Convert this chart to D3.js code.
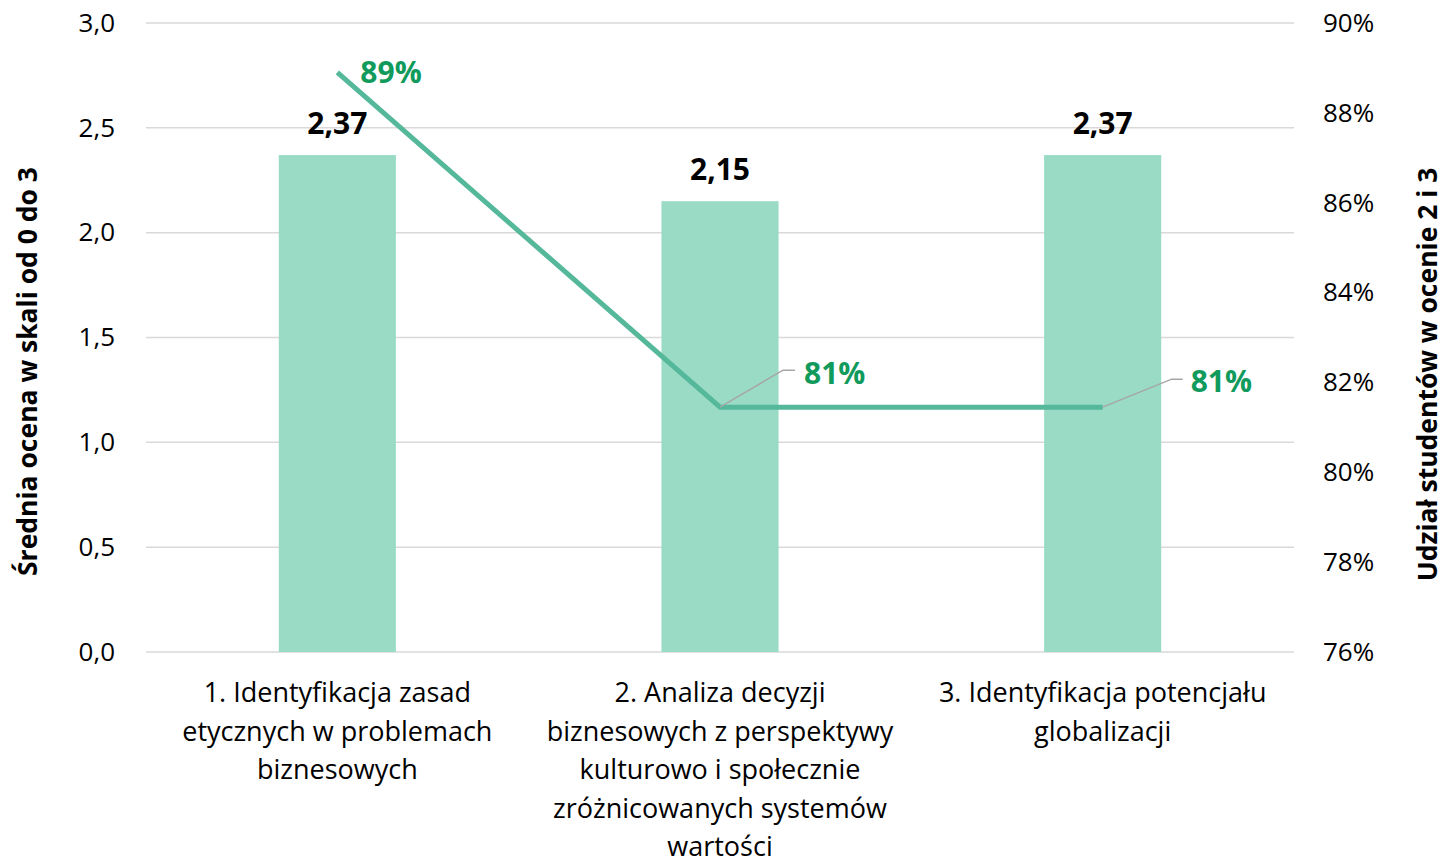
<!DOCTYPE html>
<html>
<head>
<meta charset="utf-8">
<script src="https://cdn.jsdelivr.net/npm/d3@7"></script>
<style>
  body { margin: 0; background: #fff; }
  svg text { font-family: "Open Sans", sans-serif; }
</style>
</head>
<body>
<div class="container"></div>
<script>
// chart data
const categories = ["c1", "c2", "c3"];
const categoryLines = [
  ["1. Identyfikacja zasad", "etycznych w problemach", "biznesowych"],
  ["2. Analiza decyzji", "biznesowych z perspektywy", "kulturowo i społecznie", "zróżnicowanych systemów", "wartości"],
  ["3. Identyfikacja potencjału", "globalizacji"]
];
const meanScores = [2.37, 2.15, 2.37];
const shareScores = [0.889, 0.8145, 0.8145];
const leftTicks = [0, 0.5, 1, 1.5, 2, 2.5, 3];
const rightTicks = [0.76, 0.78, 0.80, 0.82, 0.84, 0.86, 0.88, 0.90];
const leftTitle = "Średnia ocena w skali od 0 do 3";
const rightTitle = "Udział studentów w ocenie 2 i 3";

// size and margins
const width = 1445;
const height = 863;
const margin = { top: 23, bottom: 211, left: 146, right: 151 };

const svg = d3.select(".container")
  .append("svg")
  .attr("width", width)
  .attr("height", height);

const xScale = d3.scaleBand()
  .domain(categories)
  .range([margin.left, width - margin.right])
  .paddingInner(0.694)
  .paddingOuter(0.347);

const yLeft = d3.scaleLinear()
  .domain([0, 3])
  .range([height - margin.bottom, margin.top]);

const yRight = d3.scaleLinear()
  .domain([0.76, 0.90])
  .range([height - margin.bottom, margin.top]);

const comma = d3.formatLocale({ decimal: ",", thousands: " ", grouping: [3], currency: ["", ""] });
const fmt1 = comma.format(".1f");
const fmt2 = comma.format(".2f");
const pct = d3.format(".0%");

const cx = i => xScale(categories[i]) + xScale.bandwidth() / 2;

// gridlines
svg.append("g")
  .selectAll("line")
  .data(leftTicks)
  .join("line")
  .attr("x1", margin.left)
  .attr("x2", width - margin.right)
  .attr("y1", d => yLeft(d))
  .attr("y2", d => yLeft(d))
  .attr("stroke", "#d9d9d9")
  .attr("stroke-width", 1.5);

// left axis labels
svg.append("g")
  .attr("transform", `translate(${margin.left - 31}, 0)`)
  .call(d3.axisLeft(yLeft).tickValues(leftTicks).tickFormat(fmt1).tickSize(0).tickPadding(0))
  .call(g => g.select(".domain").remove())
  .selectAll("text")
  .attr("font-size", "26px")
  .attr("fill", "#000");

// right axis labels
svg.append("g")
  .attr("transform", `translate(${width - margin.right + 29}, 0)`)
  .call(d3.axisRight(yRight).tickValues(rightTicks).tickFormat(pct).tickSize(0).tickPadding(0))
  .call(g => g.select(".domain").remove())
  .selectAll("text")
  .attr("font-size", "26px")
  .attr("fill", "#000");

// bars
svg.append("g")
  .selectAll("rect")
  .data(meanScores)
  .join("rect")
  .attr("x", (d, i) => xScale(categories[i]))
  .attr("y", d => yLeft(d))
  .attr("width", xScale.bandwidth())
  .attr("height", d => yLeft(0) - yLeft(d))
  .attr("fill", "#99dbc4");

// bar value labels
svg.append("g")
  .selectAll("text")
  .data(meanScores)
  .join("text")
  .attr("x", (d, i) => cx(i))
  .attr("y", d => yLeft(d) - 21)
  .attr("text-anchor", "middle")
  .attr("font-size", "30px")
  .attr("font-weight", "bold")
  .attr("fill", "#000")
  .text(d => fmt2(d));

// line series
const line = d3.line()
  .x((d, i) => cx(i))
  .y(d => yRight(d));

svg.append("path")
  .datum(shareScores)
  .attr("d", line)
  .attr("fill", "none")
  .attr("stroke", "#55b89a")
  .attr("stroke-width", 5)
  .attr("stroke-linejoin", "round");

// leader lines for the lower labels
const leaders = [null, { dx: 63, dy: -37, run: 12 }, { dx: 69, dy: -28, run: 11 }];
leaders.forEach((l, i) => {
  if (!l) return;
  const x0 = cx(i), y0 = yRight(shareScores[i]);
  svg.append("polyline")
    .attr("points", `${x0},${y0} ${x0 + l.dx},${y0 + l.dy} ${x0 + l.dx + l.run},${y0 + l.dy}`)
    .attr("fill", "none")
    .attr("stroke", "#a6a6a6")
    .attr("stroke-width", 1.5);
});

// line labels
const labelOffsets = [{ dx: 23, dy: 0 }, { dx: 84, dy: -34 }, { dx: 88, dy: -26 }];
svg.append("g")
  .selectAll("text")
  .data(shareScores)
  .join("text")
  .attr("x", (d, i) => cx(i) + labelOffsets[i].dx)
  .attr("y", (d, i) => yRight(d) + labelOffsets[i].dy)
  .attr("dy", "0.35em")
  .attr("font-size", "30px")
  .attr("font-weight", "bold")
  .attr("fill", "#109a5c")
  .text(d => pct(d));

// category labels
const catG = svg.append("g")
  .selectAll("text")
  .data(categoryLines)
  .join("text")
  .attr("text-anchor", "middle")
  .attr("font-size", "27px")
  .attr("fill", "#000");

catG.selectAll("tspan")
  .data((d, i) => d.map(t => ({ t, i })))
  .join("tspan")
  .attr("x", d => cx(d.i))
  .attr("y", (d, j) => 702 + j * 38.5)
  .text(d => d.t);

// axis titles
svg.append("text")
  .attr("transform", `translate(37, ${(yLeft(0) + yLeft(3)) / 2 + 34}) rotate(-90)`)
  .attr("text-anchor", "middle")
  .attr("font-size", "26.5px")
  .attr("font-weight", "bold")
  .text(leftTitle);

svg.append("text")
  .attr("transform", `translate(1437, ${(yLeft(0) + yLeft(3)) / 2 + 37}) rotate(-90)`)
  .attr("text-anchor", "middle")
  .attr("font-size", "26.5px")
  .attr("font-weight", "bold")
  .text(rightTitle);
</script>
</body>
</html>
